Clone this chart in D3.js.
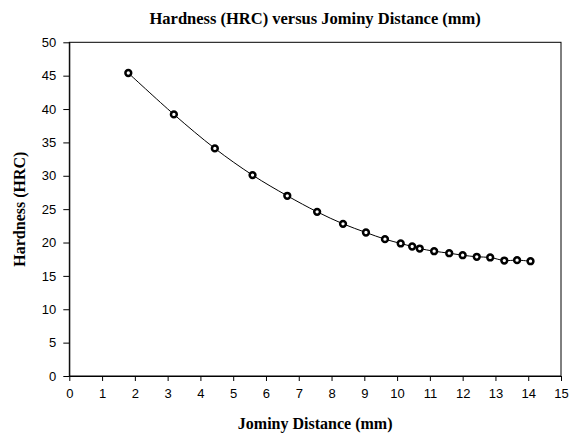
<!DOCTYPE html>
<html><head><meta charset="utf-8">
<script src="https://cdn.jsdelivr.net/npm/d3@7"></script>
<style>body{margin:0;background:#fff}</style>
</head><body>
<svg id="c" width="573" height="433"></svg>
<script>
const distance = [1.80, 3.19, 4.44, 5.59, 6.65, 7.56, 8.35, 9.05, 9.63, 10.11, 10.46, 10.69, 11.13, 11.59, 12.0, 12.43, 12.84, 13.27, 13.66, 14.07];
const hardness = [45.4, 39.2, 34.1, 30.1, 27.0, 24.6, 22.8, 21.5, 20.5, 19.86, 19.4, 19.1, 18.7, 18.4, 18.1, 17.86, 17.76, 17.3, 17.36, 17.2];
const xTicks = [0,1,2,3,4,5,6,7,8,9,10,11,12,13,14,15];
const yTicks = [0,5,10,15,20,25,30,35,40,45,50];
const title = "Hardness (HRC) versus Jominy Distance (mm)";
const xTitle = "Jominy Distance (mm)";
const yTitle = "Hardness (HRC)";

const svg = d3.select("#c");
const L = 69.3, R = 561, T = 42.3, B = 376;
const x = d3.scaleLinear().domain([0,15]).range([L,R]);
const y = d3.scaleLinear().domain([0,50]).range([B,T]);

svg.append("rect").attr("x",L).attr("y",T).attr("width",R-L).attr("height",B-T)
  .attr("fill","none").attr("stroke","#000").attr("stroke-width",1);

const xa = svg.append("g").attr("transform",`translate(0,${B})`)
  .call(d3.axisBottom(x).tickValues(xTicks).tickSize(5).tickSizeOuter(0).tickPadding(8));
const ya = svg.append("g").attr("transform",`translate(${L},0)`)
  .call(d3.axisLeft(y).tickValues(yTicks).tickSize(6).tickSizeOuter(0).tickPadding(7));
[xa,ya].forEach(a=>{
  a.select(".domain").attr("stroke","#000");
  a.selectAll("line").attr("stroke","#000");
  a.selectAll("text").attr("font-family","Liberation Sans, Arial, sans-serif").attr("font-size",13).attr("fill","#000");
});

const pts = distance.map((d,i)=>[d,hardness[i]]);
svg.append("path").datum(pts)
  .attr("d", d3.line().x(d=>x(d[0])).y(d=>y(d[1])).curve(d3.curveCatmullRom))
  .attr("fill","none").attr("stroke","#000").attr("stroke-width",1);

svg.selectAll("circle.m").data(pts).enter().append("circle")
  .attr("cx",d=>x(d[0])).attr("cy",d=>y(d[1])).attr("r",2.9)
  .attr("fill","#fff").attr("stroke","#000").attr("stroke-width",2.5);

const tf = "Liberation Serif, Times New Roman, serif";
svg.append("text").attr("x",(L+R)/2).attr("y",23.5).attr("text-anchor","middle")
  .attr("font-family",tf).attr("font-weight","bold").attr("font-size",16.5).text(title);
svg.append("text").attr("x",(L+R)/2).attr("y",429).attr("text-anchor","middle")
  .attr("font-family",tf).attr("font-weight","bold").attr("font-size",16).text(xTitle);
svg.append("text").attr("transform",`translate(25,${(T+B)/2}) rotate(-90)`).attr("text-anchor","middle")
  .attr("font-family",tf).attr("font-weight","bold").attr("font-size",16).text(yTitle);
</script>
</body></html>
